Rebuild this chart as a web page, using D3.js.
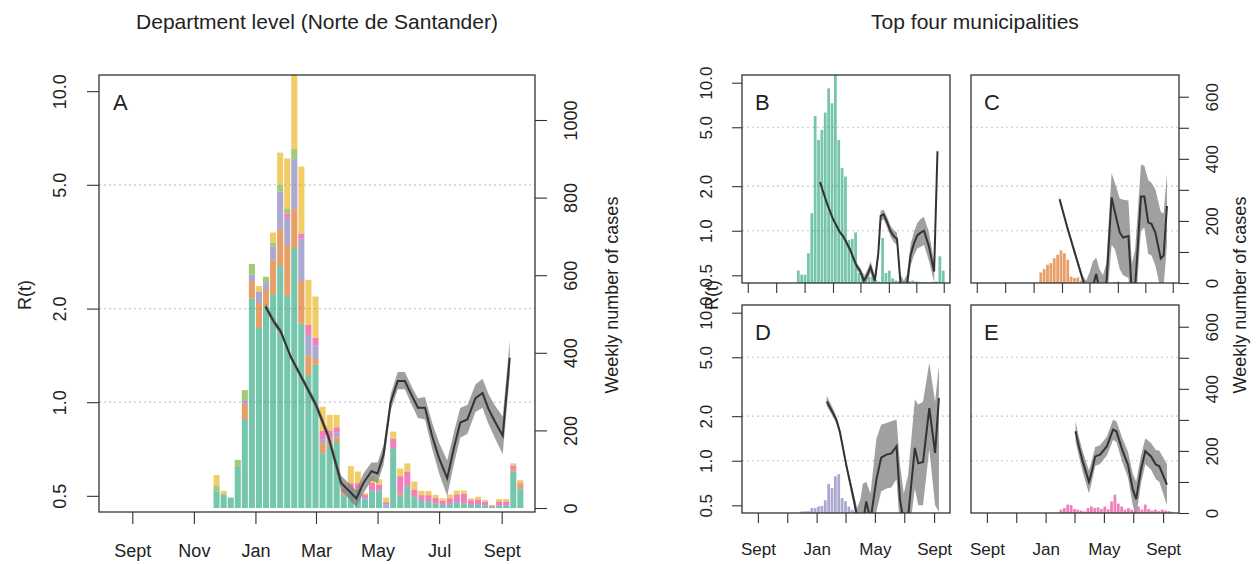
<!DOCTYPE html>
<html>
<head>
<meta charset="utf-8">
<script src="https://cdn.jsdelivr.net/npm/d3@7"></script>
<style>
  body { margin: 0; background: #fff; }
  text { font-family: "Liberation Sans", Arial, Helvetica, sans-serif; fill: #222; }
</style>
</head>
<body>
<div id="chart"></div>
<script>
// Weekly bins (week start)
const weeks = ["2015-11-20","2015-11-27","2015-12-04","2015-12-11","2015-12-18","2015-12-25",
  "2016-01-01","2016-01-08","2016-01-15","2016-01-22","2016-01-29","2016-02-05","2016-02-12",
  "2016-02-19","2016-02-26","2016-03-04","2016-03-11","2016-03-18","2016-03-25","2016-04-01",
  "2016-04-08","2016-04-15","2016-04-22","2016-04-29","2016-05-06","2016-05-13","2016-05-20",
  "2016-05-27","2016-06-03","2016-06-10","2016-06-17","2016-06-24","2016-07-01","2016-07-08",
  "2016-07-15","2016-07-22","2016-07-29","2016-08-05","2016-08-12","2016-08-19","2016-08-26",
  "2016-09-02","2016-09-09","2016-09-16"];

// Department level, stacked by municipality group
const deptGreen  = [42,33,27,106,227,540,464,520,551,624,547,670,475,343,370,141,160,170,35,48,45,22,45,45,4,154,33,55,30,18,15,12,8,10,15,12,8,10,6,3,7,6,94,50];
const deptOrange = [0,0,0,0,43,45,64,42,87,94,130,100,110,50,14,26,8,12,4,0,5,0,0,0,0,0,4,0,0,0,0,0,0,0,0,0,0,0,0,0,0,0,5,10];
const deptPurple = [0,0,0,0,8,17,30,18,36,98,70,129,110,53,35,10,12,12,0,3,0,4,0,0,5,0,0,0,0,3,3,0,0,0,0,0,0,0,0,0,0,0,0,0];
const deptPink   = [0,0,0,0,0,0,0,0,0,0,12,0,12,26,20,22,20,14,8,13,14,8,20,15,6,25,45,39,17,12,15,14,10,15,20,25,12,12,10,3,10,11,10,4];
const deptLime   = [16,4,0,18,26,27,0,16,10,17,12,26,0,0,0,0,0,0,0,0,0,0,0,0,0,0,0,0,0,0,0,0,0,0,0,0,0,0,0,0,0,0,0,0];
const deptYellow = [27,7,0,0,0,0,14,0,26,83,130,215,173,116,106,62,40,32,15,44,30,4,16,14,12,18,20,21,21,11,11,8,7,10,10,8,5,7,5,2,6,6,6,8];

// Municipalities
const muniB = [40,27,27,96,225,538,461,493,549,627,579,700,461,370,343,139,142,163,32,32,16,20,20,10,5,145,32,40,15,8,6,5,4,6,8,5,4,3,3,2,4,5,86,40];
const muniC = [0,0,0,0,34,45,59,64,80,91,105,96,75,21,16,18,8,5,0,2,0,0,0,0,0,0,3,5,0,0,0,0,0,0,0,0,0,0,0,0,0,0,0,0];
const muniD = [0,5,6,6,16,16,21,23,41,94,80,118,125,48,38,21,10,5,2,0,0,0,0,0,0,0,0,0,0,0,0,0,0,0,0,0,0,0,0,0,0,0,0,0];
const muniE = [0,0,0,0,0,0,0,0,0,0,11,16,27,25,13,11,8,5,16,21,16,18,13,21,12,37,59,30,21,11,16,11,8,21,11,27,13,8,11,6,11,8,6,4];

// R(t) estimates: dates, mean, lower, upper
const deptRDates = ["2016-01-11","2016-01-19","2016-01-26","2016-02-05","2016-02-17","2016-03-01","2016-03-13","2016-03-26","2016-04-10","2016-04-17","2016-04-25","2016-05-01","2016-05-07","2016-05-14","2016-05-21","2016-05-28","2016-06-04","2016-06-10","2016-06-17","2016-06-24","2016-07-01","2016-07-09","2016-07-16","2016-07-22","2016-07-29","2016-08-06","2016-08-13","2016-08-19","2016-08-25","2016-09-02","2016-09-09"];
const deptR     = [2.03,1.82,1.69,1.40,1.18,0.98,0.78,0.55,0.49,0.55,0.60,0.59,0.68,1.00,1.17,1.17,1.05,0.96,0.96,0.78,0.66,0.57,0.72,0.86,0.88,1.03,1.07,0.95,0.87,0.78,1.39];
const deptRLow  = [1.98,1.77,1.65,1.37,1.15,0.95,0.75,0.52,0.46,0.51,0.56,0.55,0.63,0.94,1.10,1.10,0.98,0.89,0.88,0.71,0.59,0.50,0.64,0.77,0.79,0.93,0.96,0.85,0.77,0.68,1.22];
const deptRHigh = [2.09,1.87,1.73,1.43,1.21,1.01,0.81,0.58,0.52,0.59,0.64,0.64,0.73,1.06,1.25,1.25,1.12,1.03,1.04,0.86,0.74,0.65,0.81,0.96,0.98,1.14,1.19,1.06,0.98,0.90,1.58];

const bRDates = ["2016-01-08","2016-01-22","2016-02-04","2016-02-18","2016-02-25","2016-03-10","2016-03-24","2016-04-01","2016-04-08","2016-04-15","2016-04-22","2016-05-01","2016-05-08","2016-05-13","2016-05-19","2016-05-26","2016-06-02","2016-06-09","2016-06-16","2016-06-23","2016-06-30","2016-07-07","2016-07-14","2016-07-21","2016-07-28","2016-08-04","2016-08-11","2016-08-21","2016-09-01","2016-09-08"];
const bR     = [2.13,1.55,1.20,0.98,0.92,0.75,0.58,0.53,0.46,0.50,0.57,0.46,0.70,1.26,1.29,1.15,1.00,0.92,0.88,0.45,0.40,0.44,0.68,0.82,0.93,0.97,1.00,0.79,0.53,3.44];
const bRLow  = [2.08,1.51,1.17,0.95,0.89,0.72,0.55,0.50,0.43,0.46,0.52,0.42,0.64,1.17,1.19,1.06,0.92,0.84,0.80,0.40,0.35,0.38,0.58,0.68,0.76,0.78,0.80,0.63,0.45,3.30];
const bRHigh = [2.18,1.59,1.23,1.01,0.95,0.78,0.61,0.56,0.49,0.54,0.62,0.50,0.76,1.36,1.39,1.25,1.09,1.01,0.97,0.51,0.46,0.51,0.80,0.98,1.13,1.20,1.24,0.98,0.62,3.60];

const cRDates = ["2016-01-30","2016-02-14","2016-03-01","2016-03-18","2016-03-25","2016-04-01","2016-04-08","2016-04-15","2016-04-22","2016-04-29","2016-05-06","2016-05-17","2016-05-24","2016-06-03","2016-06-10","2016-06-21","2016-06-28","2016-07-05","2016-07-17","2016-07-24","2016-08-01","2016-08-08","2016-08-16","2016-08-27","2016-09-02","2016-09-09"];
const cR     = [1.63,1.08,0.72,0.47,0.40,0.38,0.42,0.51,0.40,0.38,0.43,1.68,1.33,0.97,0.90,0.92,0.38,0.42,1.70,1.70,1.14,1.11,0.97,0.65,0.68,1.47];
const cRLow  = [1.57,1.04,0.69,0.44,0.35,0.30,0.30,0.35,0.28,0.28,0.30,0.80,0.75,0.55,0.50,0.48,0.25,0.28,1.00,1.05,0.70,0.68,0.58,0.40,0.42,0.80];
const cRHigh = [1.70,1.12,0.75,0.50,0.46,0.52,0.62,0.66,0.55,0.50,0.60,2.45,2.10,1.65,1.62,1.60,0.60,0.75,2.80,2.75,2.20,2.10,1.90,1.35,1.30,2.45];

const dRDates = ["2016-01-22","2016-02-04","2016-02-11","2016-02-18","2016-03-03","2016-03-18","2016-03-25","2016-04-01","2016-04-06","2016-04-13","2016-04-22","2016-05-04","2016-05-14","2016-05-25","2016-06-04","2016-06-15","2016-06-22","2016-06-30","2016-07-09","2016-07-23","2016-07-30","2016-08-09","2016-08-22","2016-09-03","2016-09-11"];
const dR     = [2.51,2.10,1.89,1.58,0.92,0.55,0.42,0.35,0.38,0.53,0.40,0.74,1.05,1.10,1.12,1.25,0.55,0.38,0.42,1.22,0.96,0.98,2.27,1.13,2.65];
const dRLow  = [2.35,1.98,1.78,1.50,0.87,0.50,0.37,0.25,0.28,0.35,0.25,0.45,0.62,0.65,0.66,0.75,0.35,0.25,0.28,0.65,0.50,0.50,1.20,0.50,0.45];
const dRHigh = [2.75,2.25,2.00,1.67,0.97,0.60,0.48,0.55,0.70,0.72,0.60,1.40,1.75,1.80,1.85,1.90,0.95,0.60,0.80,2.60,2.40,2.50,4.60,2.50,4.40];

const eRDates = ["2016-03-03","2016-03-10","2016-03-18","2016-03-31","2016-04-06","2016-04-13","2016-04-23","2016-05-07","2016-05-20","2016-05-27","2016-06-09","2016-06-20","2016-06-30","2016-07-07","2016-07-17","2016-07-26","2016-08-07","2016-08-17","2016-08-24","2016-09-09"];
const eR     = [1.58,1.25,0.99,0.72,0.85,1.07,1.10,1.25,1.62,1.58,1.16,0.94,0.64,0.55,0.87,1.16,1.07,0.94,0.92,0.69];
const eRLow  = [1.35,1.08,0.84,0.60,0.72,0.92,0.95,1.08,1.38,1.34,0.96,0.77,0.50,0.42,0.70,0.95,0.87,0.75,0.72,0.50];
const eRHigh = [1.85,1.45,1.16,0.86,1.00,1.24,1.27,1.45,1.89,1.85,1.40,1.15,0.82,0.72,1.08,1.42,1.32,1.18,1.17,0.95];

// Axis ticks and labels
const rTicks = [0.5, 1, 2, 5, 10];
const rGrid = [1, 2, 5];
const deptCountTicks = [0, 200, 400, 600, 800, 1000];
const muniCountTicks = [0, 100, 200, 300, 400, 500, 600];
const muniCountLabels = [0, 200, 400, 600];
const monthTicks = ["2015-09-01","2015-11-01","2016-01-01","2016-03-01","2016-05-01","2016-07-01","2016-09-01"];
const monthLabels = ["Sept","Nov","Jan","Mar","May","Jul","Sept"];
const muniMonthLabels = ["Sept","","Jan","","May","","Sept"];
const topRowTicks = ["2015-08-11","2015-10-09","2015-12-07","2016-02-04","2016-04-01","2016-05-30","2016-07-26","2016-09-21"];

// Dark2 palette drawn semi-transparent
const colors = ["#1b9e77","#d95f02","#7570b3","#e7298a","#66a61e","#e6ab02"];

const parse = d3.utcParse("%Y-%m-%d");
const xDomain = [parse("2015-07-30"), parse("2016-10-04")];
const rDomain = [Math.pow(10, Math.log10(0.5) - 0.052), Math.pow(10, 1.052)];

const svg = d3.select("#chart").append("svg")
  .attr("width", 1256).attr("height", 564);

function styleAxis(g, fontSize) {
  g.select(".domain").remove();
  g.selectAll(".tick line").attr("stroke", "#333").attr("stroke-width", 1.1);
  g.selectAll("text").style("font-size", fontSize + "px")
    .style("font-family", '"Liberation Sans", Arial, sans-serif').attr("fill", "#222");
}

function drawPanel(p) {
  const x = d3.scaleUtc().domain(xDomain).range([p.left, p.left + p.width]);
  const yR = d3.scaleLog().domain(rDomain).range([p.top + p.height, p.top]);
  const yN = d3.scaleLinear().domain(p.countDomain).range([p.top + p.height, p.top]);
  const bottom = p.top + p.height;

  svg.append("clipPath").attr("id", "clip" + p.letter)
    .append("rect").attr("x", p.left).attr("y", p.top)
    .attr("width", p.width).attr("height", p.height);

  const plot = svg.append("g").attr("clip-path", `url(#clip${p.letter})`);

  // dotted grid
  plot.selectAll("line.grid").data(rGrid).join("line")
    .attr("class", "grid")
    .attr("x1", p.left).attr("x2", p.left + p.width)
    .attr("y1", d => yR(d)).attr("y2", d => yR(d))
    .attr("stroke", "#c8c8c8").attr("stroke-width", 1.2)
    .attr("stroke-dasharray", "2,3");

  // stacked weekly bars
  const keys = p.series.map((s, i) => "s" + i);
  const table = weeks.map((w, j) => {
    const row = { week: parse(w) };
    p.series.forEach((s, i) => { row["s" + i] = s.values[j]; });
    return row;
  });
  const stacked = d3.stack().keys(keys)(table);
  plot.append("g").selectAll("g")
    .data(stacked)
    .join("g")
    .attr("fill", (d, i) => p.series[i].color)
    .attr("fill-opacity", 0.6)
    .selectAll("rect")
    .data(d => d)
    .join("rect")
    .attr("x", d => x(d.data.week) + 0.5)
    .attr("width", d => x(d3.utcDay.offset(d.data.week, 7)) - x(d.data.week) - p.gap)
    .attr("y", d => yN(d[1]))
    .attr("height", d => Math.max(0, yN(d[0]) - yN(d[1])));

  // R(t) band and line
  const rows = p.rDates.map((d, i) => ({
    date: parse(d), r: p.r[i], lo: p.rLow[i], hi: p.rHigh[i]
  }));
  plot.append("path")
    .datum(rows)
    .attr("fill", "#808080")
    .attr("fill-opacity", 0.75)
    .attr("d", d3.area().x(d => x(d.date)).y0(d => yR(d.lo)).y1(d => yR(d.hi)));
  plot.append("path")
    .datum(rows)
    .attr("fill", "none")
    .attr("stroke", "#333")
    .attr("stroke-width", 2)
    .attr("d", d3.line().x(d => x(d.date)).y(d => yR(d.r)));

  // box
  svg.append("rect")
    .attr("x", p.left).attr("y", p.top)
    .attr("width", p.width).attr("height", p.height)
    .attr("fill", "none").attr("stroke", "#333").attr("stroke-width", 1.3);

  // panel letter
  svg.append("text")
    .attr("x", p.left + p.letterDx).attr("y", p.top + 35)
    .style("font-size", "22px")
    .text(p.letter);

  if (p.leftAxis) {
    const g = svg.append("g")
      .attr("transform", `translate(${p.left},0)`)
      .call(d3.axisLeft(yR).tickValues(rTicks).tickFormat(d3.format(".1f")).tickSize(p.tick));
    styleAxis(g, p.font);
    g.selectAll("text")
      .attr("transform", "rotate(-90)")
      .attr("x", 0).attr("y", -p.labelGap)
      .attr("dy", "0.35em")
      .attr("text-anchor", "middle");
  }

  if (p.rightAxis) {
    const g = svg.append("g")
      .attr("transform", `translate(${p.left + p.width},0)`)
      .call(d3.axisRight(yN).tickValues(p.countTicks)
        .tickFormat(d => p.countLabels.includes(d) ? d : "").tickSize(p.tick));
    styleAxis(g, p.font);
    g.selectAll("text")
      .attr("transform", "rotate(-90)")
      .attr("x", 0).attr("y", p.labelGap - 3)
      .attr("dy", "0.35em")
      .attr("text-anchor", "middle");
  }

  const gx = svg.append("g")
    .attr("transform", `translate(0,${bottom})`)
    .call(d3.axisBottom(x).tickValues(p.xTicks.map(parse))
      .tickFormat((d, i) => p.xLabels[i]).tickSize(p.tick));
  styleAxis(gx, p.font);
  gx.selectAll("text").attr("y", p.labelGap).attr("dy", "0.35em");
}

const deptSeries = [deptGreen, deptOrange, deptPurple, deptPink, deptLime, deptYellow]
  .map((v, i) => ({ values: v, color: colors[i] }));

drawPanel({
  letter: "A", left: 99, top: 75, width: 436, height: 437, letterDx: 14,
  countDomain: [-10.3, 1116], series: deptSeries,
  rDates: deptRDates, r: deptR, rLow: deptRLow, rHigh: deptRHigh,
  leftAxis: true, rightAxis: true, countTicks: deptCountTicks, countLabels: deptCountTicks,
  xTicks: monthTicks, xLabels: monthLabels, tick: 12, font: 18, labelGap: 39, gap: 1
});

const small = [
  { letter: "B", left: 742, top: 75, values: muniB, color: colors[0],
    rDates: bRDates, r: bR, rLow: bRLow, rHigh: bRHigh, leftAxis: true, rightAxis: false,
    xTicks: topRowTicks, xLabels: topRowTicks.map(() => "") },
  { letter: "C", left: 971, top: 75, values: muniC, color: colors[1],
    rDates: cRDates, r: cR, rLow: cRLow, rHigh: cRHigh, leftAxis: false, rightAxis: true,
    xTicks: topRowTicks, xLabels: topRowTicks.map(() => "") },
  { letter: "D", left: 742, top: 305, values: muniD, color: colors[2],
    rDates: dRDates, r: dR, rLow: dRLow, rHigh: dRHigh, leftAxis: true, rightAxis: false,
    xTicks: monthTicks, xLabels: muniMonthLabels },
  { letter: "E", left: 971, top: 305, values: muniE, color: colors[3],
    rDates: eRDates, r: eR, rLow: eRLow, rHigh: eRHigh, leftAxis: false, rightAxis: true,
    xTicks: monthTicks, xLabels: muniMonthLabels }
];

small.forEach(s => drawPanel({
  letter: s.letter, left: s.left, top: s.top, width: 208, height: 208, letterDx: 13,
  countDomain: [0, 670], series: [{ values: s.values, color: s.color }],
  rDates: s.rDates, r: s.r, rLow: s.rLow, rHigh: s.rHigh,
  leftAxis: s.leftAxis, rightAxis: s.rightAxis,
  countTicks: muniCountTicks, countLabels: muniCountLabels,
  xTicks: s.xTicks, xLabels: s.xLabels, tick: 10, font: 17, labelGap: 36, gap: 0.6
}));

// titles
svg.append("text").attr("x", 317).attr("y", 29).attr("text-anchor", "middle")
  .style("font-size", "21px").text("Department level (Norte de Santander)");
svg.append("text").attr("x", 975).attr("y", 29).attr("text-anchor", "middle")
  .style("font-size", "21px").text("Top four municipalities");

// axis titles
function vTitle(x, y, label) {
  svg.append("text")
    .attr("transform", `translate(${x},${y}) rotate(-90)`)
    .attr("text-anchor", "middle").attr("dy", "0.35em")
    .style("font-size", "18px").text(label);
}
vTitle(25, 295, "R(t)");
vTitle(612, 295, "Weekly number of cases");
vTitle(712, 295, "R(t)");
vTitle(1240, 295, "Weekly number of cases");
</script>
</body>
</html>
